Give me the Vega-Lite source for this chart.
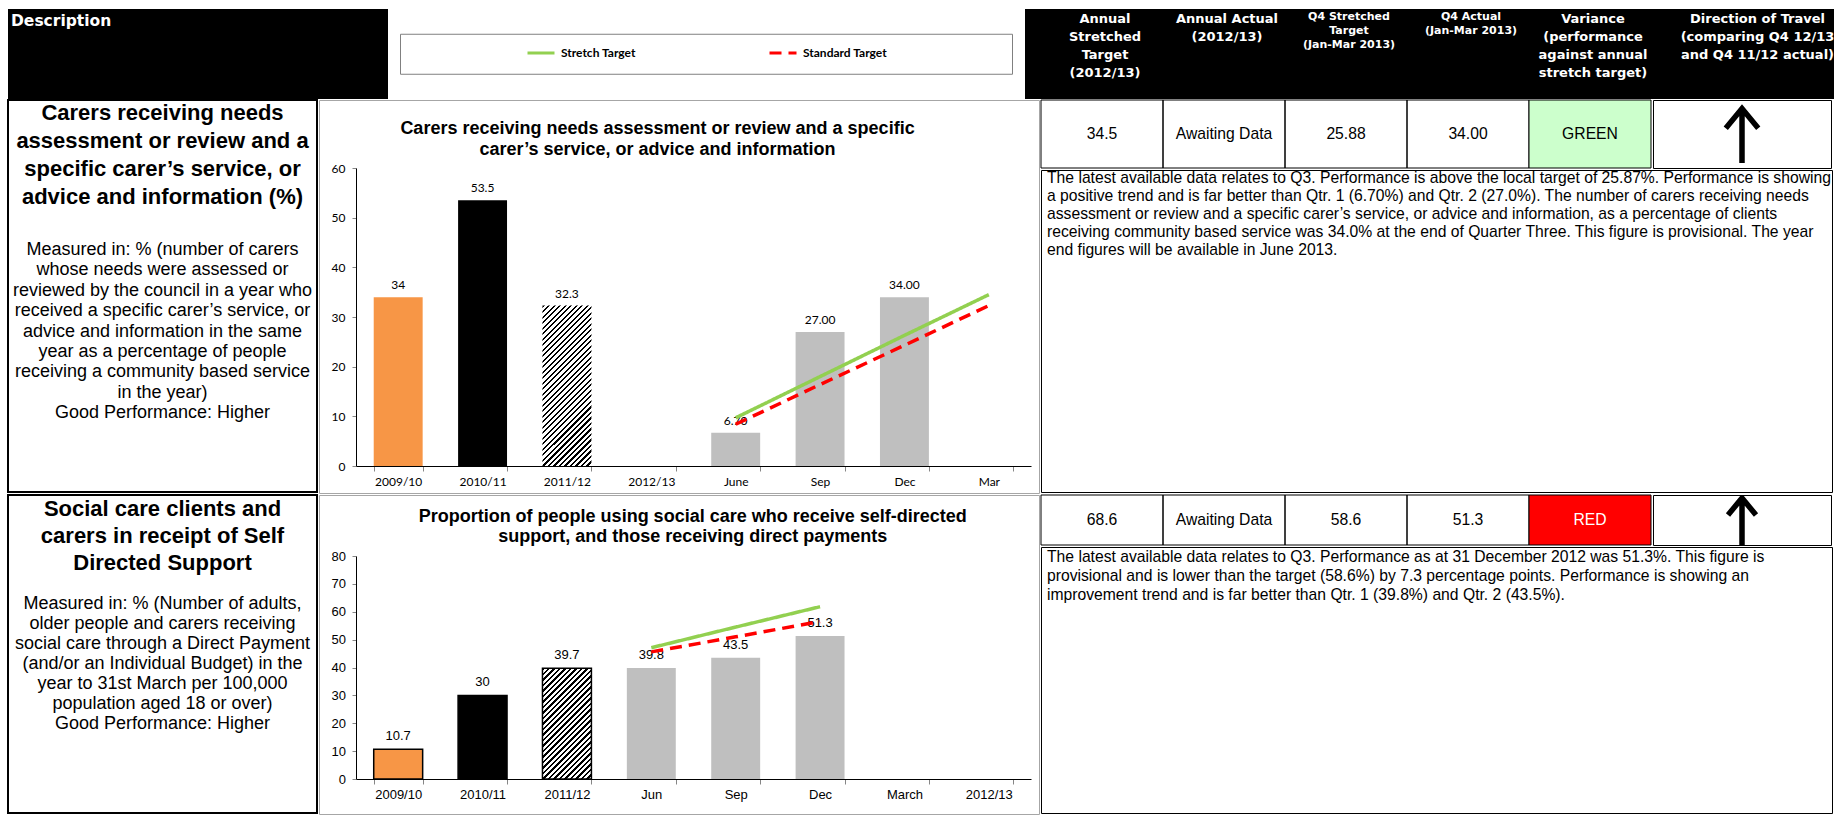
{
  "$schema": "https://vega.github.io/schema/vega-lite/v6.json",
  "padding": {"left": 7, "top": 8, "right": 0, "bottom": 0},
  "background": "white",
  "config": {
    "view": {"stroke": null},
    "font": "Liberation Sans",
    "axis": {"grid": false},
    "concat": {"spacing": 0}
  },
  "datasets": {
    "bars": [
      {"indicator": "Carers", "period": "2009/10", "kind": "2009/10", "value": 34},
      {"indicator": "Carers", "period": "2010/11", "kind": "2010/11", "value": 53.5},
      {"indicator": "Carers", "period": "2011/12", "kind": "2011/12", "value": 32.3},
      {"indicator": "Carers", "period": "June", "kind": "Quarter", "value": 6.7},
      {"indicator": "Carers", "period": "Sep", "kind": "Quarter", "value": 27},
      {"indicator": "Carers", "period": "Dec", "kind": "Quarter", "value": 34},
      {"indicator": "SDS", "period": "2009/10", "kind": "2009/10", "value": 10.7},
      {"indicator": "SDS", "period": "2010/11", "kind": "2010/11", "value": 30},
      {"indicator": "SDS", "period": "2011/12", "kind": "2011/12", "value": 39.7},
      {"indicator": "SDS", "period": "Jun", "kind": "Quarter", "value": 39.8},
      {"indicator": "SDS", "period": "Sep", "kind": "Quarter", "value": 43.5},
      {"indicator": "SDS", "period": "Dec", "kind": "Quarter", "value": 51.3}
    ],
    "targets": [
      {"indicator": "Carers", "target": "Stretch Target", "period": "June", "value": 9.7},
      {"indicator": "Carers", "target": "Stretch Target", "period": "Sep", "value": 18.0},
      {"indicator": "Carers", "target": "Stretch Target", "period": "Dec", "value": 26.3},
      {"indicator": "Carers", "target": "Stretch Target", "period": "Mar", "value": 34.5},
      {"indicator": "Carers", "target": "Standard Target", "period": "June", "value": 8.4},
      {"indicator": "Carers", "target": "Standard Target", "period": "Sep", "value": 16.4},
      {"indicator": "Carers", "target": "Standard Target", "period": "Dec", "value": 24.3},
      {"indicator": "Carers", "target": "Standard Target", "period": "Mar", "value": 32.3},
      {"indicator": "SDS", "target": "Stretch Target", "period": "Jun", "value": 47.1},
      {"indicator": "SDS", "target": "Stretch Target", "period": "Sep", "value": 54.5},
      {"indicator": "SDS", "target": "Stretch Target", "period": "Dec", "value": 61.8},
      {"indicator": "SDS", "target": "Standard Target", "period": "Jun", "value": 45.6},
      {"indicator": "SDS", "target": "Standard Target", "period": "Sep", "value": 51.0},
      {"indicator": "SDS", "target": "Standard Target", "period": "Dec", "value": 56.5}
    ],
    "table": [
      {"indicator": "Carers", "column": "Annual Stretched Target", "value": "34.5"},
      {"indicator": "Carers", "column": "Annual Actual", "value": "Awaiting Data"},
      {"indicator": "Carers", "column": "Q4 Stretched Target", "value": "25.88"},
      {"indicator": "Carers", "column": "Q4 Actual", "value": "34.00"},
      {"indicator": "Carers", "column": "Variance", "value": "GREEN", "rag": "GREEN"},
      {"indicator": "Carers", "column": "Direction of Travel", "value": "Up"},
      {"indicator": "SDS", "column": "Annual Stretched Target", "value": "68.6"},
      {"indicator": "SDS", "column": "Annual Actual", "value": "Awaiting Data"},
      {"indicator": "SDS", "column": "Q4 Stretched Target", "value": "58.6"},
      {"indicator": "SDS", "column": "Q4 Actual", "value": "51.3"},
      {"indicator": "SDS", "column": "Variance", "value": "RED", "rag": "RED"},
      {"indicator": "SDS", "column": "Direction of Travel", "value": "Up"}
    ],
    "headers": [
      {"key": "Description", "label": "Description"},
      {"key": "Annual Stretched Target", "label": ["Annual", "Stretched", "Target", "(2012/13)"]},
      {"key": "Annual Actual", "label": ["Annual Actual", "(2012/13)"]},
      {"key": "Q4 Stretched Target", "label": ["Q4  Stretched", "Target", "(Jan-Mar 2013)"]},
      {"key": "Q4 Actual", "label": ["Q4  Actual", "(Jan-Mar 2013)"]},
      {"key": "Variance", "label": ["Variance", "(performance", "against annual", "stretch target)"]},
      {"key": "Direction of Travel", "label": ["Direction of Travel", "(comparing Q4 12/13", "and Q4 11/12  actual)"]}
    ],
    "indicators": [
      {
        "indicator": "Carers",
        "title": ["Carers receiving needs", "assessment or review and a", "specific carer’s service, or", "advice and information (%)"],
        "measure": ["Measured in: % (number of carers", "whose needs were assessed or", "reviewed by the council in a year who", "received a specific carer’s service, or", "advice and information in the same", "year as a percentage of people", "receiving a community based service", "in the year)", "Good Performance: Higher"],
        "commentary": ["The latest available data relates to Q3. Performance is above the local target of 25.87%. Performance is showing", "a positive trend and is far better than Qtr. 1 (6.70%) and Qtr. 2 (27.0%). The number of carers receiving needs", "assessment or review and a specific carer’s service, or advice and information, as a percentage of clients", "receiving community based service was 34.0% at the end of Quarter Three. This figure is provisional. The year", "end figures will be available in June 2013."]
      },
      {
        "indicator": "SDS",
        "title": ["Social care clients and", "carers in receipt of Self", "Directed Support"],
        "measure": ["Measured in: % (Number of adults,", "older people and carers receiving", "social care through a Direct Payment", "(and/or an Individual Budget) in the", "year to 31st March per 100,000", "population aged 18 or over)", "Good Performance: Higher"],
        "commentary": ["The latest available data relates to Q3. Performance as at 31 December 2012 was 51.3%. This figure is", "provisional and is lower than the target (58.6%) by 7.3 percentage points. Performance is showing an", "improvement trend and is far better than Qtr. 1 (39.8%) and Qtr. 2 (43.5%)."]
      }
    ]
  },
  "spacing": 0,
  "vconcat": [
    {
      "spacing": 11,
      "center": true,
      "hconcat": [
        {
          "width": 380, "height": 90,
          "view": {"fill": "#000000", "stroke": null},
          "data": {"name": "headers"},
          "transform": [{"filter": "datum.key === 'Description'"}],
          "mark": {"type": "text", "align": "left", "baseline": "middle", "font": "DejaVu Sans", "fontWeight": "bold", "fontSize": 15.5, "color": "#ffffff", "dx": -187, "dy": -33},
          "encoding": {"text": {"field": "label", "type": "nominal"}}
        },
        {
          "width": 612, "height": 40,
          "view": {"stroke": "#808080", "strokeWidth": 1},
          "data": {"name": "targets"},
          "mark": "rule",
          "encoding": {}
        },
        {
          "spacing": 0,
          "hconcat": [
            {
              "width": 19, "height": 90,
              "view": {"fill": "#000000", "stroke": null},
              "data": {"name": "headers"},
              "mark": "rule",
              "encoding": {}
            },
            {
              "width": 610, "height": 90,
              "view": {"fill": "#000000", "stroke": null},
              "data": {"name": "headers"},
              "encoding": {
                "x": {"field": "key", "type": "nominal", "scale": {"domain": ["Annual Stretched Target", "Annual Actual", "Q4 Stretched Target", "Q4 Actual", "Variance"], "paddingInner": 0, "paddingOuter": 0}, "axis": null},
                "text": {"field": "label", "type": "nominal"}
              },
              "layer": [
                {
                  "transform": [{"filter": "indexof(['Annual Stretched Target', 'Annual Actual', 'Variance'], datum.key) >= 0"}],
                  "mark": {"type": "text", "baseline": "top", "font": "DejaVu Sans", "fontWeight": "bold", "fontSize": 13, "lineHeight": 18, "color": "#ffffff", "dy": -41.4}
                },
                {
                  "transform": [{"filter": "indexof(['Q4 Stretched Target', 'Q4 Actual'], datum.key) >= 0"}],
                  "mark": {"type": "text", "baseline": "top", "font": "DejaVu Sans", "fontWeight": "bold", "fontSize": 11, "lineHeight": 14, "color": "#ffffff", "dy": -43.4}
                }
              ]
            },
            {
              "width": 183, "height": 90,
              "view": {"fill": "#000000", "stroke": null},
              "data": {"name": "headers"},
              "transform": [{"filter": "datum.key === 'Direction of Travel'"}],
              "mark": {"type": "text", "baseline": "top", "font": "DejaVu Sans", "fontWeight": "bold", "fontSize": 13, "lineHeight": 18, "color": "#ffffff", "dx": 12, "dy": -41.4},
              "encoding": {"text": {"field": "label", "type": "nominal"}}
            }
          ]
        }
      ]
    },
    {
      "spacing": 0,
      "hconcat": [
        {
          "width": 309, "height": 392,
          "view": {"stroke": "#000000", "strokeWidth": 2},
          "data": {"name": "indicators"},
          "transform": [{"filter": "datum.indicator === 'Carers'"}],
          "layer": [
            {"mark": {"type": "text", "font": "Liberation Sans", "fontWeight": "bold", "fontSize": 22, "lineHeight": 28, "baseline": "middle", "color": "#000000", "dy": -183}, "encoding": {"text": {"field": "title", "type": "nominal"}}},
            {"mark": {"type": "text", "font": "Liberation Sans", "fontSize": 18, "lineHeight": 20.4, "baseline": "middle", "color": "#000000", "dy": -46}, "encoding": {"text": {"field": "measure", "type": "nominal"}}}
          ]
        },
        {
          "width": 720, "height": 393,
          "view": {"stroke": "#a6a6a6", "strokeWidth": 1},
          "title": {"text": ["Carers receiving needs assessment or review and a specific", "carer’s service, or advice and information"], "font": "Liberation Sans", "fontSize": 18, "fontWeight": "bold", "lineHeight": 21, "color": "#000000", "anchor": "middle", "frame": "group", "baseline": "top", "offset": -59.2, "dx": -21.5},
          "encoding": {
            "x": {"field": "period", "type": "nominal", "scale": {"domain": ["2009/10", "2010/11", "2011/12", "2012/13", "June", "Sep", "Dec", "Mar"], "range": [37, 712], "paddingInner": 0.42, "paddingOuter": 0.21}, "axis": {"orient": "bottom", "offset": -27, "title": null, "labelAngle": 0, "labelFont": "Lato", "labelFontSize": 12, "labelColor": "#000000", "labelPadding": 5, "tickBand": "extent", "tickSize": 5, "tickColor": "#868686", "domainColor": "#000000", "grid": false}},
            "y": {"field": "value", "type": "quantitative", "scale": {"domain": [0, 60], "range": [366, 68], "nice": false, "zero": true}, "axis": {"orient": "left", "offset": -37, "title": null, "values": [0, 10, 20, 30, 40, 50, 60], "labelFont": "Lato", "labelFontSize": 12, "labelColor": "#000000", "labelPadding": 7, "tickSize": 4, "tickColor": "#868686", "domainColor": "#000000", "grid": false}}
          },
          "layer": [
            {
              "data": {"name": "bars"},
              "transform": [{"filter": "datum.indicator === 'Carers' && datum.kind !== '2011/12'"}],
              "mark": {"type": "bar"},
              "encoding": {"color": {"field": "kind", "type": "nominal", "scale": {"domain": ["2009/10", "2010/11", "2011/12", "Quarter"], "range": ["#F79646", "#000000", "#FFFFFF", "#BFBFBF"]}, "legend": null}}
            },
            {
              "data": {"name": "bars"},
              "transform": [{"filter": "datum.indicator === 'Carers' && datum.kind === '2011/12'"}],
              "mark": {"type": "bar", "fill": {"gradient": "linear", "x1": 0, "y1": 0, "x2": 0.3642, "y2": 1.194, "stops": [
                {"offset": 0, "color": "#000"}, {"offset": 0.0105, "color": "#000"}, {"offset": 0.0105, "color": "#fff"}, {"offset": 0.0263, "color": "#fff"},
                {"offset": 0.0263, "color": "#000"}, {"offset": 0.0368, "color": "#000"}, {"offset": 0.0368, "color": "#fff"}, {"offset": 0.0526, "color": "#fff"},
                {"offset": 0.0526, "color": "#000"}, {"offset": 0.0631, "color": "#000"}, {"offset": 0.0631, "color": "#fff"}, {"offset": 0.0789, "color": "#fff"},
                {"offset": 0.0789, "color": "#000"}, {"offset": 0.0894, "color": "#000"}, {"offset": 0.0894, "color": "#fff"}, {"offset": 0.1053, "color": "#fff"},
                {"offset": 0.1053, "color": "#000"}, {"offset": 0.1158, "color": "#000"}, {"offset": 0.1158, "color": "#fff"}, {"offset": 0.1316, "color": "#fff"},
                {"offset": 0.1316, "color": "#000"}, {"offset": 0.1421, "color": "#000"}, {"offset": 0.1421, "color": "#fff"}, {"offset": 0.1579, "color": "#fff"},
                {"offset": 0.1579, "color": "#000"}, {"offset": 0.1684, "color": "#000"}, {"offset": 0.1684, "color": "#fff"}, {"offset": 0.1842, "color": "#fff"},
                {"offset": 0.1842, "color": "#000"}, {"offset": 0.1947, "color": "#000"}, {"offset": 0.1947, "color": "#fff"}, {"offset": 0.2105, "color": "#fff"},
                {"offset": 0.2105, "color": "#000"}, {"offset": 0.221, "color": "#000"}, {"offset": 0.221, "color": "#fff"}, {"offset": 0.2368, "color": "#fff"},
                {"offset": 0.2368, "color": "#000"}, {"offset": 0.2473, "color": "#000"}, {"offset": 0.2473, "color": "#fff"}, {"offset": 0.2632, "color": "#fff"},
                {"offset": 0.2632, "color": "#000"}, {"offset": 0.2737, "color": "#000"}, {"offset": 0.2737, "color": "#fff"}, {"offset": 0.2895, "color": "#fff"},
                {"offset": 0.2895, "color": "#000"}, {"offset": 0.3, "color": "#000"}, {"offset": 0.3, "color": "#fff"}, {"offset": 0.3158, "color": "#fff"},
                {"offset": 0.3158, "color": "#000"}, {"offset": 0.3263, "color": "#000"}, {"offset": 0.3263, "color": "#fff"}, {"offset": 0.3421, "color": "#fff"},
                {"offset": 0.3421, "color": "#000"}, {"offset": 0.3526, "color": "#000"}, {"offset": 0.3526, "color": "#fff"}, {"offset": 0.3684, "color": "#fff"},
                {"offset": 0.3684, "color": "#000"}, {"offset": 0.3789, "color": "#000"}, {"offset": 0.3789, "color": "#fff"}, {"offset": 0.3947, "color": "#fff"},
                {"offset": 0.3947, "color": "#000"}, {"offset": 0.4052, "color": "#000"}, {"offset": 0.4052, "color": "#fff"}, {"offset": 0.4211, "color": "#fff"},
                {"offset": 0.4211, "color": "#000"}, {"offset": 0.4316, "color": "#000"}, {"offset": 0.4316, "color": "#fff"}, {"offset": 0.4474, "color": "#fff"},
                {"offset": 0.4474, "color": "#000"}, {"offset": 0.4579, "color": "#000"}, {"offset": 0.4579, "color": "#fff"}, {"offset": 0.4737, "color": "#fff"},
                {"offset": 0.4737, "color": "#000"}, {"offset": 0.4842, "color": "#000"}, {"offset": 0.4842, "color": "#fff"}, {"offset": 0.5, "color": "#fff"},
                {"offset": 0.5, "color": "#000"}, {"offset": 0.5105, "color": "#000"}, {"offset": 0.5105, "color": "#fff"}, {"offset": 0.5263, "color": "#fff"},
                {"offset": 0.5263, "color": "#000"}, {"offset": 0.5368, "color": "#000"}, {"offset": 0.5368, "color": "#fff"}, {"offset": 0.5526, "color": "#fff"},
                {"offset": 0.5526, "color": "#000"}, {"offset": 0.5631, "color": "#000"}, {"offset": 0.5631, "color": "#fff"}, {"offset": 0.5789, "color": "#fff"},
                {"offset": 0.5789, "color": "#000"}, {"offset": 0.5894, "color": "#000"}, {"offset": 0.5894, "color": "#fff"}, {"offset": 0.6053, "color": "#fff"},
                {"offset": 0.6053, "color": "#000"}, {"offset": 0.6158, "color": "#000"}, {"offset": 0.6158, "color": "#fff"}, {"offset": 0.6316, "color": "#fff"},
                {"offset": 0.6316, "color": "#000"}, {"offset": 0.6421, "color": "#000"}, {"offset": 0.6421, "color": "#fff"}, {"offset": 0.6579, "color": "#fff"},
                {"offset": 0.6579, "color": "#000"}, {"offset": 0.6684, "color": "#000"}, {"offset": 0.6684, "color": "#fff"}, {"offset": 0.6842, "color": "#fff"},
                {"offset": 0.6842, "color": "#000"}, {"offset": 0.6947, "color": "#000"}, {"offset": 0.6947, "color": "#fff"}, {"offset": 0.7105, "color": "#fff"},
                {"offset": 0.7105, "color": "#000"}, {"offset": 0.721, "color": "#000"}, {"offset": 0.721, "color": "#fff"}, {"offset": 0.7368, "color": "#fff"},
                {"offset": 0.7368, "color": "#000"}, {"offset": 0.7473, "color": "#000"}, {"offset": 0.7473, "color": "#fff"}, {"offset": 0.7632, "color": "#fff"},
                {"offset": 0.7632, "color": "#000"}, {"offset": 0.7737, "color": "#000"}, {"offset": 0.7737, "color": "#fff"}, {"offset": 0.7895, "color": "#fff"},
                {"offset": 0.7895, "color": "#000"}, {"offset": 0.8, "color": "#000"}, {"offset": 0.8, "color": "#fff"}, {"offset": 0.8158, "color": "#fff"},
                {"offset": 0.8158, "color": "#000"}, {"offset": 0.8263, "color": "#000"}, {"offset": 0.8263, "color": "#fff"}, {"offset": 0.8421, "color": "#fff"},
                {"offset": 0.8421, "color": "#000"}, {"offset": 0.8526, "color": "#000"}, {"offset": 0.8526, "color": "#fff"}, {"offset": 0.8684, "color": "#fff"},
                {"offset": 0.8684, "color": "#000"}, {"offset": 0.8789, "color": "#000"}, {"offset": 0.8789, "color": "#fff"}, {"offset": 0.8947, "color": "#fff"},
                {"offset": 0.8947, "color": "#000"}, {"offset": 0.9052, "color": "#000"}, {"offset": 0.9052, "color": "#fff"}, {"offset": 0.9211, "color": "#fff"},
                {"offset": 0.9211, "color": "#000"}, {"offset": 0.9316, "color": "#000"}, {"offset": 0.9316, "color": "#fff"}, {"offset": 0.9474, "color": "#fff"},
                {"offset": 0.9474, "color": "#000"}, {"offset": 0.9579, "color": "#000"}, {"offset": 0.9579, "color": "#fff"}, {"offset": 0.9737, "color": "#fff"},
                {"offset": 0.9737, "color": "#000"}, {"offset": 0.9842, "color": "#000"}, {"offset": 0.9842, "color": "#fff"}, {"offset": 1, "color": "#fff"}
              ]}}
            },
            {
              "data": {"name": "bars"},
              "transform": [{"filter": "datum.indicator === 'Carers' && datum.kind !== 'Quarter'"}],
              "mark": {"type": "text", "baseline": "bottom", "dy": -5, "font": "Lato", "fontSize": 12, "color": "#000000"},
              "encoding": {"text": {"field": "value", "type": "quantitative", "format": ".4~r"}}
            },
            {
              "data": {"name": "bars"},
              "transform": [{"filter": "datum.indicator === 'Carers' && datum.kind === 'Quarter'"}],
              "mark": {"type": "text", "baseline": "bottom", "dy": -5, "font": "Lato", "fontSize": 12, "color": "#000000"},
              "encoding": {"text": {"field": "value", "type": "quantitative", "format": ".2f"}}
            },
            {
              "data": {"name": "targets"},
              "transform": [{"filter": "datum.indicator === 'Carers'"}],
              "mark": {"type": "line", "strokeWidth": 3.5, "strokeCap": "butt"},
              "encoding": {
                "stroke": {"field": "target", "type": "nominal", "scale": {"domain": ["Stretch Target", "Standard Target"], "range": ["#92D050", "#FF0000"]}, "legend": {"orient": "none", "legendX": 518, "legendY": 29, "direction": "horizontal", "title": null, "padding": 0, "labelFont": "Lato", "labelFontWeight": "bold", "labelFontSize": 12, "labelColor": "#000000", "labelOffset": 5, "symbolType": "stroke", "symbolSize": 729, "symbolStrokeWidth": 3, "columnPadding": 127}},
                "strokeDash": {"field": "target", "type": "nominal", "scale": {"domain": ["Stretch Target", "Standard Target"], "range": [[1, 0], [12, 7]]}, "legend": {"orient": "none", "legendX": 518, "legendY": 29, "direction": "horizontal", "title": null, "padding": 0, "labelFont": "Lato", "labelFontWeight": "bold", "labelFontSize": 12, "labelColor": "#000000", "labelOffset": 5, "symbolType": "stroke", "symbolSize": 729, "symbolStrokeWidth": 3, "columnPadding": 127}}
              }
            }
          ]
        },
        {
          "spacing": 0,
          "vconcat": [
            {
              "spacing": 0,
              "hconcat": [
                {
                  "width": 610, "height": 68,
                  "data": {"name": "table"},
                  "transform": [{"filter": "datum.indicator === 'Carers' && datum.column !== 'Direction of Travel'"}],
                  "encoding": {"x": {"field": "column", "type": "nominal", "scale": {"domain": ["Annual Stretched Target", "Annual Actual", "Q4 Stretched Target", "Q4 Actual", "Variance"], "paddingInner": 0, "paddingOuter": 0}, "axis": null}},
                  "layer": [
                    {"mark": {"type": "rect", "stroke": "#000000", "strokeWidth": 1}, "encoding": {"fill": {"field": "rag", "type": "nominal", "scale": {"domain": ["GREEN", "RED"], "range": ["#CCFFCC", "#FF0000"]}, "legend": null}}},
                    {"mark": {"type": "text", "font": "Liberation Sans", "fontSize": 15.7}, "encoding": {"text": {"field": "value", "type": "nominal"}, "color": {"condition": {"test": "datum.rag === 'RED'", "value": "#ffffff"}, "value": "#000000"}}}
                  ]
                },
                {
                  "width": 178, "height": 68,
                  "view": {"stroke": "#000000"},
                  "data": {"name": "table"},
                  "transform": [{"filter": "datum.indicator === 'Carers' && datum.column === 'Direction of Travel'"}],
                  "mark": {"type": "point", "filled": false, "fill": null, "stroke": "#000000", "strokeWidth": 5.5, "strokeCap": "butt", "strokeJoin": "miter", "opacity": 1, "size": 3364, "clip": true},
                  "encoding": {"shape": {"field": "value", "type": "nominal", "scale": {"domain": ["Up"], "range": ["M0,1L0,-0.88M-0.56,-0.2L0,-0.88L0.56,-0.2"]}, "legend": null}}
                }
              ]
            },
            {
              "width": 791, "height": 322,
              "view": {"stroke": "#000000"},
              "data": {"name": "indicators"},
              "transform": [{"filter": "datum.indicator === 'Carers'"}],
              "mark": {"type": "text", "align": "left", "baseline": "middle", "font": "Liberation Sans", "fontSize": 15.7, "lineHeight": 18, "color": "#000000", "dx": -389.5, "dy": -153},
              "encoding": {"text": {"field": "commentary", "type": "nominal"}}
            }
          ]
        }
      ]
    },
    {
      "spacing": 0,
      "hconcat": [
        {
          "width": 309, "height": 318,
          "view": {"stroke": "#000000", "strokeWidth": 2},
          "data": {"name": "indicators"},
          "transform": [{"filter": "datum.indicator === 'SDS'"}],
          "layer": [
            {"mark": {"type": "text", "font": "Liberation Sans", "fontWeight": "bold", "fontSize": 22, "lineHeight": 27, "baseline": "middle", "color": "#000000", "dy": -145}, "encoding": {"text": {"field": "title", "type": "nominal"}}},
            {"mark": {"type": "text", "font": "Liberation Sans", "fontSize": 18, "lineHeight": 20, "baseline": "middle", "color": "#000000", "dy": -50}, "encoding": {"text": {"field": "measure", "type": "nominal"}}}
          ]
        },
        {
          "width": 720, "height": 319,
          "view": {"stroke": "#a6a6a6", "strokeWidth": 1},
          "title": {"text": ["Proportion of people using social care who receive self-directed", "support, and those receiving direct payments"], "font": "Liberation Sans", "fontSize": 18, "fontWeight": "bold", "lineHeight": 20, "color": "#000000", "anchor": "middle", "frame": "group", "baseline": "top", "offset": -51.2, "dx": 13.7},
          "encoding": {
            "x": {"field": "period", "type": "nominal", "scale": {"domain": ["2009/10", "2010/11", "2011/12", "Jun", "Sep", "Dec", "March", "2012/13"], "range": [37, 712], "paddingInner": 0.42, "paddingOuter": 0.21}, "axis": {"orient": "bottom", "offset": -35, "title": null, "labelAngle": 0, "labelFont": "Liberation Sans", "labelFontSize": 13, "labelColor": "#000000", "labelPadding": 4, "tickBand": "extent", "tickSize": 5, "tickColor": "#868686", "domainColor": "#000000", "grid": false}},
            "y": {"field": "value", "type": "quantitative", "scale": {"domain": [0, 80], "range": [284, 61], "nice": false, "zero": true}, "axis": {"orient": "left", "offset": -37, "title": null, "values": [0, 10, 20, 30, 40, 50, 60, 70, 80], "labelFont": "Liberation Sans", "labelFontSize": 13, "labelColor": "#000000", "labelPadding": 6.5, "tickSize": 4, "tickColor": "#868686", "domainColor": "#000000", "grid": false}}
          },
          "layer": [
            {
              "data": {"name": "bars"},
              "transform": [{"filter": "datum.indicator === 'SDS' && (datum.kind === '2009/10' || datum.kind === '2010/11')"}],
              "mark": {"type": "bar", "stroke": "#000000", "strokeWidth": 1.5},
              "encoding": {"color": {"field": "kind", "type": "nominal", "scale": {"domain": ["2009/10", "2010/11", "2011/12", "Quarter"], "range": ["#F79646", "#000000", "#FFFFFF", "#BFBFBF"]}, "legend": null}}
            },
            {
              "data": {"name": "bars"},
              "transform": [{"filter": "datum.indicator === 'SDS' && datum.kind === 'Quarter'"}],
              "mark": {"type": "bar"},
              "encoding": {"color": {"field": "kind", "type": "nominal", "scale": {"domain": ["2009/10", "2010/11", "2011/12", "Quarter"], "range": ["#F79646", "#000000", "#FFFFFF", "#BFBFBF"]}, "legend": null}}
            },
            {
              "data": {"name": "bars"},
              "transform": [{"filter": "datum.indicator === 'SDS' && datum.kind === '2011/12'"}],
              "mark": {"type": "bar", "stroke": "#000000", "strokeWidth": 1.5, "fill": {"gradient": "linear", "x1": 0, "y1": 0, "x2": 0.5333, "y2": 1.2063, "stops": [
                {"offset": 0, "color": "#000"}, {"offset": 0.0138, "color": "#000"}, {"offset": 0.0138, "color": "#fff"}, {"offset": 0.0345, "color": "#fff"},
                {"offset": 0.0345, "color": "#000"}, {"offset": 0.0483, "color": "#000"}, {"offset": 0.0483, "color": "#fff"}, {"offset": 0.069, "color": "#fff"},
                {"offset": 0.069, "color": "#000"}, {"offset": 0.0828, "color": "#000"}, {"offset": 0.0828, "color": "#fff"}, {"offset": 0.1034, "color": "#fff"},
                {"offset": 0.1034, "color": "#000"}, {"offset": 0.1172, "color": "#000"}, {"offset": 0.1172, "color": "#fff"}, {"offset": 0.1379, "color": "#fff"},
                {"offset": 0.1379, "color": "#000"}, {"offset": 0.1517, "color": "#000"}, {"offset": 0.1517, "color": "#fff"}, {"offset": 0.1724, "color": "#fff"},
                {"offset": 0.1724, "color": "#000"}, {"offset": 0.1862, "color": "#000"}, {"offset": 0.1862, "color": "#fff"}, {"offset": 0.2069, "color": "#fff"},
                {"offset": 0.2069, "color": "#000"}, {"offset": 0.2207, "color": "#000"}, {"offset": 0.2207, "color": "#fff"}, {"offset": 0.2414, "color": "#fff"},
                {"offset": 0.2414, "color": "#000"}, {"offset": 0.2552, "color": "#000"}, {"offset": 0.2552, "color": "#fff"}, {"offset": 0.2759, "color": "#fff"},
                {"offset": 0.2759, "color": "#000"}, {"offset": 0.2897, "color": "#000"}, {"offset": 0.2897, "color": "#fff"}, {"offset": 0.3103, "color": "#fff"},
                {"offset": 0.3103, "color": "#000"}, {"offset": 0.3241, "color": "#000"}, {"offset": 0.3241, "color": "#fff"}, {"offset": 0.3448, "color": "#fff"},
                {"offset": 0.3448, "color": "#000"}, {"offset": 0.3586, "color": "#000"}, {"offset": 0.3586, "color": "#fff"}, {"offset": 0.3793, "color": "#fff"},
                {"offset": 0.3793, "color": "#000"}, {"offset": 0.3931, "color": "#000"}, {"offset": 0.3931, "color": "#fff"}, {"offset": 0.4138, "color": "#fff"},
                {"offset": 0.4138, "color": "#000"}, {"offset": 0.4276, "color": "#000"}, {"offset": 0.4276, "color": "#fff"}, {"offset": 0.4483, "color": "#fff"},
                {"offset": 0.4483, "color": "#000"}, {"offset": 0.4621, "color": "#000"}, {"offset": 0.4621, "color": "#fff"}, {"offset": 0.4828, "color": "#fff"},
                {"offset": 0.4828, "color": "#000"}, {"offset": 0.4966, "color": "#000"}, {"offset": 0.4966, "color": "#fff"}, {"offset": 0.5172, "color": "#fff"},
                {"offset": 0.5172, "color": "#000"}, {"offset": 0.531, "color": "#000"}, {"offset": 0.531, "color": "#fff"}, {"offset": 0.5517, "color": "#fff"},
                {"offset": 0.5517, "color": "#000"}, {"offset": 0.5655, "color": "#000"}, {"offset": 0.5655, "color": "#fff"}, {"offset": 0.5862, "color": "#fff"},
                {"offset": 0.5862, "color": "#000"}, {"offset": 0.6, "color": "#000"}, {"offset": 0.6, "color": "#fff"}, {"offset": 0.6207, "color": "#fff"},
                {"offset": 0.6207, "color": "#000"}, {"offset": 0.6345, "color": "#000"}, {"offset": 0.6345, "color": "#fff"}, {"offset": 0.6552, "color": "#fff"},
                {"offset": 0.6552, "color": "#000"}, {"offset": 0.669, "color": "#000"}, {"offset": 0.669, "color": "#fff"}, {"offset": 0.6897, "color": "#fff"},
                {"offset": 0.6897, "color": "#000"}, {"offset": 0.7035, "color": "#000"}, {"offset": 0.7035, "color": "#fff"}, {"offset": 0.7241, "color": "#fff"},
                {"offset": 0.7241, "color": "#000"}, {"offset": 0.7379, "color": "#000"}, {"offset": 0.7379, "color": "#fff"}, {"offset": 0.7586, "color": "#fff"},
                {"offset": 0.7586, "color": "#000"}, {"offset": 0.7724, "color": "#000"}, {"offset": 0.7724, "color": "#fff"}, {"offset": 0.7931, "color": "#fff"},
                {"offset": 0.7931, "color": "#000"}, {"offset": 0.8069, "color": "#000"}, {"offset": 0.8069, "color": "#fff"}, {"offset": 0.8276, "color": "#fff"},
                {"offset": 0.8276, "color": "#000"}, {"offset": 0.8414, "color": "#000"}, {"offset": 0.8414, "color": "#fff"}, {"offset": 0.8621, "color": "#fff"},
                {"offset": 0.8621, "color": "#000"}, {"offset": 0.8759, "color": "#000"}, {"offset": 0.8759, "color": "#fff"}, {"offset": 0.8966, "color": "#fff"},
                {"offset": 0.8966, "color": "#000"}, {"offset": 0.9104, "color": "#000"}, {"offset": 0.9104, "color": "#fff"}, {"offset": 0.931, "color": "#fff"},
                {"offset": 0.931, "color": "#000"}, {"offset": 0.9448, "color": "#000"}, {"offset": 0.9448, "color": "#fff"}, {"offset": 0.9655, "color": "#fff"},
                {"offset": 0.9655, "color": "#000"}, {"offset": 0.9793, "color": "#000"}, {"offset": 0.9793, "color": "#fff"}, {"offset": 1, "color": "#fff"}
              ]}}
            },
            {
              "data": {"name": "bars"},
              "transform": [{"filter": "datum.indicator === 'SDS'"}],
              "mark": {"type": "text", "baseline": "bottom", "dy": -6, "font": "Liberation Sans", "fontSize": 13, "color": "#000000"},
              "encoding": {"text": {"field": "value", "type": "quantitative", "format": ".4~r"}}
            },
            {
              "data": {"name": "targets"},
              "transform": [{"filter": "datum.indicator === 'SDS'"}],
              "mark": {"type": "line", "strokeWidth": 3.5, "strokeCap": "butt"},
              "encoding": {
                "stroke": {"field": "target", "type": "nominal", "scale": {"domain": ["Stretch Target", "Standard Target"], "range": ["#92D050", "#FF0000"]}, "legend": {"orient": "none", "legendX": 518, "legendY": 29, "direction": "horizontal", "title": null, "padding": 0, "labelFont": "Lato", "labelFontWeight": "bold", "labelFontSize": 12, "labelColor": "#000000", "labelOffset": 5, "symbolType": "stroke", "symbolSize": 729, "symbolStrokeWidth": 3, "columnPadding": 127}},
                "strokeDash": {"field": "target", "type": "nominal", "scale": {"domain": ["Stretch Target", "Standard Target"], "range": [[1, 0], [12, 7]]}, "legend": {"orient": "none", "legendX": 518, "legendY": 29, "direction": "horizontal", "title": null, "padding": 0, "labelFont": "Lato", "labelFontWeight": "bold", "labelFontSize": 12, "labelColor": "#000000", "labelOffset": 5, "symbolType": "stroke", "symbolSize": 729, "symbolStrokeWidth": 3, "columnPadding": 127}}
              }
            }
          ]
        },
        {
          "spacing": 0,
          "vconcat": [
            {
              "spacing": 0,
              "hconcat": [
                {
                  "width": 610, "height": 50,
                  "data": {"name": "table"},
                  "transform": [{"filter": "datum.indicator === 'SDS' && datum.column !== 'Direction of Travel'"}],
                  "encoding": {"x": {"field": "column", "type": "nominal", "scale": {"domain": ["Annual Stretched Target", "Annual Actual", "Q4 Stretched Target", "Q4 Actual", "Variance"], "paddingInner": 0, "paddingOuter": 0}, "axis": null}},
                  "layer": [
                    {"mark": {"type": "rect", "stroke": "#000000", "strokeWidth": 1}, "encoding": {"fill": {"field": "rag", "type": "nominal", "scale": {"domain": ["GREEN", "RED"], "range": ["#CCFFCC", "#FF0000"]}, "legend": null}}},
                    {"mark": {"type": "text", "font": "Liberation Sans", "fontSize": 15.7}, "encoding": {"text": {"field": "value", "type": "nominal"}, "color": {"condition": {"test": "datum.rag === 'RED'", "value": "#ffffff"}, "value": "#000000"}}}
                  ]
                },
                {
                  "width": 178, "height": 50,
                  "view": {"stroke": "#000000"},
                  "data": {"name": "table"},
                  "transform": [{"filter": "datum.indicator === 'SDS' && datum.column === 'Direction of Travel'"}],
                  "mark": {"type": "point", "filled": false, "fill": null, "stroke": "#000000", "strokeWidth": 5.5, "strokeCap": "butt", "strokeJoin": "miter", "opacity": 1, "size": 2500, "clip": true},
                  "encoding": {"shape": {"field": "value", "type": "nominal", "scale": {"domain": ["Up"], "range": ["M0,1L0,-0.88M-0.56,-0.2L0,-0.88L0.56,-0.2"]}, "legend": null}}
                }
              ]
            },
            {
              "width": 791, "height": 266,
              "view": {"stroke": "#000000"},
              "data": {"name": "indicators"},
              "transform": [{"filter": "datum.indicator === 'SDS'"}],
              "mark": {"type": "text", "align": "left", "baseline": "middle", "font": "Liberation Sans", "fontSize": 15.7, "lineHeight": 19, "color": "#000000", "dx": -389.5, "dy": -123},
              "encoding": {"text": {"field": "commentary", "type": "nominal"}}
            }
          ]
        }
      ]
    }
  ]
}
